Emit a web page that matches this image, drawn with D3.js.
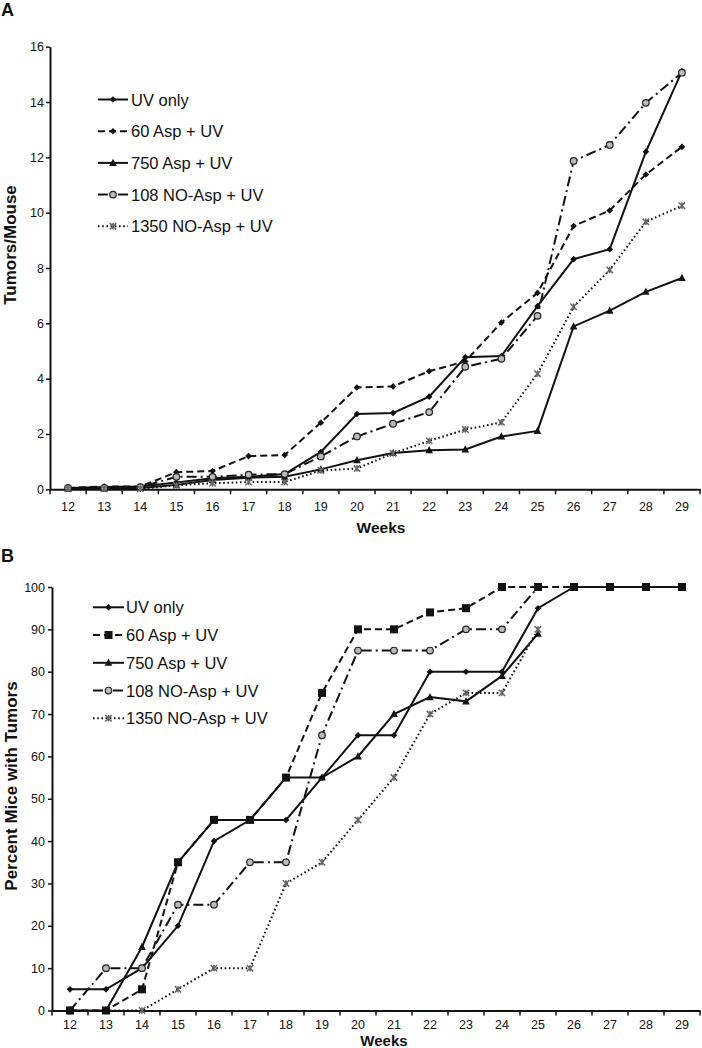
<!DOCTYPE html>
<html><head><meta charset="utf-8">
<script src="https://cdn.jsdelivr.net/npm/d3@7"></script>
<style>
body{margin:0;background:#fff}
svg{display:block}
text{font-family:"Liberation Sans",Arial,Helvetica,sans-serif;fill:#111}
</style>
</head><body>
<svg id="chart" width="702" height="1048"></svg>
<script>
// ---------- DATA ----------
const weeks = [12,13,14,15,16,17,18,19,20,21,22,23,24,25,26,27,28,29];
const seriesNames = ["UV only","60 Asp + UV","750 Asp + UV","108 NO-Asp + UV","1350 NO-Asp + UV"];

// Panel A: tumors per mouse
const uvOnlyA   = [0.05,0.08,0.10,0.25,0.40,0.45,0.55,1.35,2.72,2.76,3.35,4.77,4.82,6.62,8.32,8.68,12.20,15.12];
const asp60A    = [0.05,0.10,0.10,0.62,0.66,1.20,1.24,2.41,3.68,3.72,4.27,4.62,6.03,7.10,9.52,10.08,11.38,12.38];
const asp750A   = [0.02,0.03,0.05,0.16,0.34,0.42,0.45,0.72,1.05,1.31,1.41,1.44,1.91,2.11,5.89,6.46,7.14,7.64];
const noAsp108A = [0.05,0.05,0.08,0.45,0.45,0.53,0.55,1.19,1.91,2.37,2.79,4.43,4.72,6.27,11.87,12.45,13.97,15.06];
const noAsp1350A= [0.02,0.02,0.02,0.14,0.22,0.26,0.26,0.68,0.75,1.30,1.75,2.16,2.42,4.18,6.60,7.93,9.67,10.25];
const yTicksA = [0,2,4,6,8,10,12,14,16];

// Panel B: percent mice with tumors
const uvOnlyB   = [5,5,10,20,40,45,45,55,65,65,80,80,80,95,100,100,100,100];
const asp60B    = [0,0,5,35,45,45,55,75,90,90,94,95,100,100,100,100,100,100];
const asp750B   = [0,0,15,35,45,45,55,55,60,70,74,73,79,89,null,null,null,null];
const noAsp108B = [0,10,10,25,25,35,35,65,85,85,85,90,90,100,null,null,null,null];
const noAsp1350B= [null,0,0,5,10,10,30,35,45,55,70,75,75,90,null,null,null,null];
const yTicksB = [0,10,20,30,40,50,60,70,80,90,100];

// ---------- STYLES ----------
const lineStyles = [
  {dash:null, w:2},
  {dash:"7,4", w:2},
  {dash:null, w:2},
  {dash:"10,4,2,4", w:2},
  {dash:"1.6,2.6", w:2}
];
const markersA = ["diamond","diamond","triangle","circle","star"];
const markersB = ["diamond","square","triangle","circle","star"];

const svg = d3.select("#chart");

function drawMarker(g, type, x, y) {
  if (type === "diamond") {
    const s = 3.3;
    g.append("path").attr("d", `M${x},${y-s}L${x+s},${y}L${x},${y+s}L${x-s},${y}Z`).attr("fill", "#111");
  } else if (type === "square") {
    const s = 4;
    g.append("rect").attr("x", x-s).attr("y", y-s).attr("width", 2*s).attr("height", 2*s).attr("fill", "#111");
  } else if (type === "triangle") {
    const s = 3.8;
    g.append("path").attr("d", `M${x},${y-s*1.1}L${x+s},${y+s*0.8}L${x-s},${y+s*0.8}Z`).attr("fill", "#111");
  } else if (type === "circle") {
    g.append("circle").attr("cx", x).attr("cy", y).attr("r", 3.3).attr("fill", "#bbb").attr("stroke", "#222").attr("stroke-width", 1.2);
  } else if (type === "star") {
    const s = 3.2;
    g.append("path").attr("d", `M${x-s},${y-s}L${x+s},${y+s}M${x-s},${y+s}L${x+s},${y-s}M${x},${y-s}L${x},${y+s}`)
      .attr("stroke", "#666").attr("stroke-width", 1.5).attr("fill", "none");
  }
}

function drawPanel(cfg) {
  const g = svg.append("g");
  const x = d3.scaleBand().domain(weeks).range([cfg.x0, cfg.x1]).paddingInner(0).paddingOuter(0);
  const y = d3.scaleLinear().domain(cfg.yDomain).range([cfg.y0, cfg.yTop]);
  const cx = w => x(w) + x.bandwidth() / 2;

  // y axis
  const ya = g.append("g").attr("transform", `translate(${cfg.x0},0)`)
    .call(d3.axisLeft(y).tickValues(cfg.yTicks).tickSize(4).tickSizeOuter(0).tickPadding(cfg.yPad));
  ya.select(".domain").attr("stroke", "#111").attr("stroke-width", 2);
  ya.selectAll(".tick line").attr("stroke", "#111").attr("stroke-width", 1.5);
  ya.selectAll(".tick text").style("font-size", "12.5px").attr("fill", "#222")
    .style("font-family", '"Liberation Sans",Arial,sans-serif');

  // x axis
  const xa = g.append("g").attr("transform", `translate(0,${cfg.y0})`)
    .call(d3.axisBottom(x).tickSize(0).tickSizeOuter(0).tickPadding(cfg.xPad));
  xa.select(".domain").attr("stroke", "#111").attr("stroke-width", 2);
  xa.selectAll(".tick text").style("font-size", "12.5px").attr("fill", "#222")
    .style("font-family", '"Liberation Sans",Arial,sans-serif');
  const bounds = weeks.map(w => x(w)).concat([x.range()[1]]);
  g.append("g").selectAll("line").data(bounds).join("line")
    .attr("x1", d => d).attr("x2", d => d)
    .attr("y1", cfg.y0).attr("y2", cfg.y0 + 5)
    .attr("stroke", "#111").attr("stroke-width", 1.5);

  // lines
  const line = d3.line().defined(d => d.v != null).x(d => cx(d.w)).y(d => y(d.v));
  cfg.series.forEach((vals, i) => {
    const pts = weeks.map((w, j) => ({w, v: vals[j]}));
    const st = lineStyles[i];
    g.append("path").attr("d", line(pts)).attr("fill", "none")
      .attr("stroke", "#111").attr("stroke-width", st.w)
      .attr("stroke-dasharray", st.dash);
  });
  // markers
  cfg.markerOrder.forEach(i => {
    const vals = cfg.series[i];
    weeks.forEach((w, j) => {
      if (vals[j] != null) drawMarker(g, cfg.markers[i], cx(w), y(vals[j]));
    });
  });

  // legend
  seriesNames.forEach((name, i) => {
    const ly = cfg.legY + i * cfg.legStep;
    const st = lineStyles[i];
    g.append("line").attr("x1", cfg.legX0).attr("x2", cfg.legX1).attr("y1", ly).attr("y2", ly)
      .attr("stroke", "#111").attr("stroke-width", st.w).attr("stroke-dasharray", st.dash);
    drawMarker(g, cfg.markers[i], (cfg.legX0 + cfg.legX1) / 2, ly);
    g.append("text").attr("x", cfg.legTx).attr("y", ly + 6).text(name)
      .style("font-size", "16.5px");
  });

  // axis titles
  g.append("text").attr("x", cfg.xTitleX).attr("y", cfg.xTitleY).attr("text-anchor", "middle")
    .style("font-size", cfg.xTitleSize).style("font-weight", "bold").text("Weeks");
  g.append("text").attr("transform", `translate(${cfg.yTitleX},${cfg.yTitleY}) rotate(-90)`)
    .attr("text-anchor", "middle").style("font-size", cfg.yTitleSize).style("font-weight", "bold").text(cfg.yTitle);
  g.append("text").attr("x", 1).attr("y", cfg.letterY).style("font-size", "18px").style("font-weight", "bold").text(cfg.letter);
}

drawPanel({
  x0: 50, x1: 700, y0: 489.3, yTop: 46.7, yDomain: [0, 16], yTicks: yTicksA, yPad: 2, xPad: 13,
  series: [uvOnlyA, asp60A, asp750A, noAsp108A, noAsp1350A],
  markers: markersA, markerOrder: [0, 1, 2, 3, 4],
  legY: 99.5, legStep: 31.7, legX0: 98, legX1: 128, legTx: 131,
  xTitleX: 381, xTitleY: 533, xTitleSize: "15.5px", yTitleX: 15.5, yTitleY: 245, yTitleSize: "17px", yTitle: "Tumors/Mouse",
  letter: "A", letterY: 16
});

drawPanel({
  x0: 52, x1: 700, y0: 1010.5, yTop: 587, yDomain: [0, 100], yTicks: yTicksB, yPad: 3, xPad: 9.5,
  series: [uvOnlyB, asp60B, asp750B, noAsp108B, noAsp1350B],
  markers: markersB, markerOrder: [2, 0, 3, 4, 1],
  legY: 607.3, legStep: 27.75, legX0: 93, legX1: 124, legTx: 126,
  xTitleX: 384, xTitleY: 1045.5, xTitleSize: "15px", yTitleX: 16.5, yTitleY: 786, yTitleSize: "17px", yTitle: "Percent Mice with Tumors",
  letter: "B", letterY: 562
});
</script>
</body></html>
